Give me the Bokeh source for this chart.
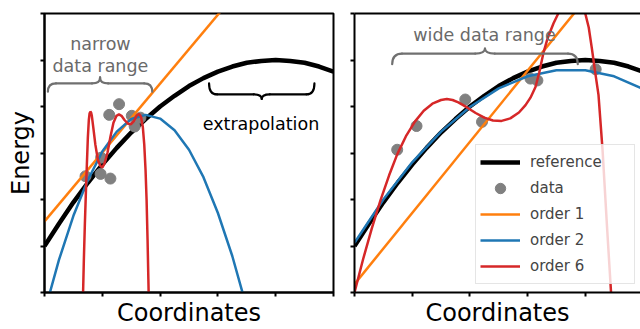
from bokeh.plotting import figure
from bokeh.models import Range1d, FixedTicker, LinearAxis, Label, Legend, LegendItem
from bokeh.layouts import row
from bokeh.embed import file_html
from bokeh.resources import INLINE

FONT = "DejaVu Sans"

# ---------------- data ----------------
x_ticks = [0, 1, 2, 3, 4, 5]
y_ticks = [0, 1, 2, 3, 4, 5, 6]

# reference curve (black), same in both panels
ref_x = [0, 0.25, 0.5, 0.75, 1, 1.25, 1.5, 1.75, 2, 2.25, 2.5, 2.75, 3, 3.25, 3.5, 3.75, 4, 4.25, 4.5, 4.75, 5]
ref_y = [1.00, 1.48, 1.94, 2.36, 2.75, 3.11, 3.44, 3.73, 4.00, 4.23, 4.44, 4.61, 4.75, 4.86, 4.94, 4.98, 5.00, 4.98, 4.94, 4.86, 4.75]

# data points
narrow_x = [0.71, 0.97, 1.14, 0.98, 1.12, 1.29, 1.51, 1.56, 1.66]
narrow_y = [2.50, 2.55, 2.45, 2.90, 3.82, 4.05, 3.80, 3.57, 3.76]
wide_x = [0.74, 1.075, 1.92, 2.21, 3.05, 3.17, 4.18]
wide_y = [3.07, 3.58, 4.15, 3.67, 4.60, 4.56, 4.80]

# narrow-range fits
n_o1_x = [0.0, 3.2]
n_o1_y = [1.53, 6.27]
n_o2_x = [0, 0.25, 0.5, 0.75, 1.0, 1.25, 1.5, 1.75, 2.0, 2.25, 2.5, 2.75, 3.0, 3.25, 3.5]
n_o2_y = [-0.42, 0.70, 1.65, 2.42, 3.03, 3.46, 3.73, 3.82, 3.74, 3.49, 3.07, 2.48, 1.71, 0.78, -0.33]
n_o6_x = [0.665, 0.681, 0.698, 0.715, 0.733, 0.750, 0.767, 0.780, 0.793, 0.806, 0.819, 0.845, 0.880,
          0.924, 0.967, 1.002, 1.037, 1.089, 1.141, 1.193, 1.245, 1.288, 1.332, 1.384, 1.444, 1.497,
          1.549, 1.592, 1.635, 1.670, 1.701, 1.726, 1.748, 1.766, 1.783, 1.797, 1.804]
n_o6_y = [-0.14, 0.71, 1.46, 2.11, 2.75, 3.33, 3.71, 3.85, 3.89, 3.87, 3.80, 3.54, 3.18,
          2.85, 2.72, 2.69, 2.77, 3.00, 3.35, 3.65, 3.80, 3.83, 3.80, 3.71, 3.63, 3.62,
          3.69, 3.80, 3.84, 3.78, 3.56, 3.18, 2.64, 2.00, 1.14, 0.29, -0.14]

# wide-range fits
w_o1_x = [0.0, 4.0]
w_o1_y = [0.18, 6.30]
w_o2_x = [0, 0.5, 1.0, 1.5, 2.0, 2.5, 3.0, 3.5, 4.0, 4.5, 5.0]
w_o2_y = [1.07, 2.00, 2.80, 3.46, 3.99, 4.39, 4.65, 4.78, 4.78, 4.65, 4.38]
w_o6_x = [0.0, 0.15, 0.3, 0.45, 0.6, 0.74, 0.9, 1.05, 1.2, 1.35, 1.5, 1.6, 1.7, 1.8, 1.95, 2.1,
          2.25, 2.4, 2.55, 2.7, 2.85, 2.964, 3.05, 3.137, 3.2, 3.276, 3.35, 3.45, 3.536, 3.62,
          3.72, 3.82, 3.9, 4.0, 4.06, 4.114, 4.17, 4.229, 4.3, 4.375, 4.444, 4.5]
w_o6_y = [0.00, 0.72, 1.38, 1.98, 2.52, 2.97, 3.38, 3.68, 3.91, 4.06, 4.14, 4.16, 4.14, 4.09, 3.98, 3.86,
          3.76, 3.70, 3.69, 3.745, 3.87, 4.03, 4.19, 4.42, 4.72, 5.16, 5.48, 5.79, 6.01, 6.20,
          6.33, 6.34, 6.24, 6.00, 5.70, 5.25, 4.75, 4.25, 3.05, 1.45, 0.05, -1.10]

legend_labels = ["reference", "data", "order 1", "order 2", "order 6"]

C_REF = "black"
C_DOT = "#808080"
C_O1 = "#ff7f0e"
C_O2 = "#1f77b4"
C_O6 = "#d62728"
C_NOTE = "#6a6a6a"
AX_FS = "24px"
NOTE_FS = "17.5px"


def style(p):
    p.grid.visible = False
    for ax, ticks in ((p.xaxis[0], x_ticks), (p.yaxis[0], y_ticks)):
        ax.ticker = FixedTicker(ticks=ticks)
        ax.major_tick_in = 0
        ax.major_tick_out = 4
        ax.major_tick_line_width = 2
        ax.minor_tick_line_color = None
        ax.axis_line_width = 2
        ax.major_label_text_font_size = "0px"
        ax.major_label_text_color = None
        ax.major_label_standoff = 0
        ax.axis_label_text_font = FONT
        ax.axis_label_text_font_size = AX_FS
        ax.axis_label_text_font_style = "normal"
        ax.axis_label_text_color = "black"
    p.xaxis[0].axis_label = "Coordinates"
    p.xaxis[0].axis_label_standoff = 2


def brace(p, x0, x1, y_end, y_flat, y_tip, c, color):
    xm = (x0 + x1) / 2.0
    kw = dict(line_color=color, line_width=2.2, line_cap="round")
    p.quadratic(x0=[x0, xm - c, xm, x1 - c], y0=[y_end, y_flat, y_tip, y_flat],
                x1=[x0 + c, xm, xm + c, x1], y1=[y_flat, y_tip, y_flat, y_end],
                cx=[x0, xm, xm, x1], cy=[y_flat, y_flat, y_flat, y_flat], **kw)
    p.segment(x0=[x0 + c, xm + c], y0=[y_flat, y_flat], x1=[xm - c, x1 - c], y1=[y_flat, y_flat], **kw)


# ---------------- left panel ----------------
p1 = figure(width=338, height=329, x_range=Range1d(0, 5), y_range=Range1d(0, 6),
            output_backend="svg", toolbar_location=None,
            min_border_left=44, min_border_right=5, min_border_top=13, min_border_bottom=36)
style(p1)
p1.outline_line_color = "black"
p1.outline_line_width = 2
p1.outline_line_alpha = 1
p1.yaxis[0].axis_label = "Energy"
p1.yaxis[0].axis_label_standoff = 6

p1.line(ref_x, ref_y, line_color=C_REF, line_width=4.5)
p1.scatter(narrow_x, narrow_y, size=11, color=C_DOT)
p1.line(n_o1_x, n_o1_y, line_color=C_O1, line_width=2.5)
p1.line(n_o2_x, n_o2_y, line_color=C_O2, line_width=2.5)
p1.line(n_o6_x, n_o6_y, line_color=C_O6, line_width=2.5)

brace(p1, 0.059, 1.864, 4.317, 4.497, 4.625, 0.14, "#707070")
brace(p1, 2.847, 4.670, 4.497, 4.261, 4.161, 0.14, "black")

for txt, x, y, col in (("narrow", 0.967, 5.353, C_NOTE), ("data range", 0.967, 4.867, C_NOTE),
                       ("extrapolation", 3.745, 3.625, "black")):
    p1.add_layout(Label(x=x, y=y, text=txt, text_align="center", text_baseline="alphabetic",
                        text_font=FONT, text_font_size=NOTE_FS, text_color=col))

# ---------------- right panel ----------------
p2 = figure(width=302, height=329, x_range=Range1d(0, 4.957), y_range=Range1d(0, 6),
            output_backend="svg", toolbar_location=None,
            min_border_left=16, min_border_right=0, min_border_top=13, min_border_bottom=36)
style(p2)
p2.outline_line_color = None
top = LinearAxis(ticker=FixedTicker(ticks=[]), axis_line_width=2, major_tick_in=0, major_tick_out=0,
                 minor_tick_line_color=None, major_label_text_font_size="0px",
                 major_label_text_color=None, major_label_standoff=0)
p2.add_layout(top, "above")

r_ref = p2.line(ref_x, ref_y, line_color=C_REF, line_width=4.5)
r_dat = p2.scatter(wide_x, wide_y, size=11, color=C_DOT)
r_o1 = p2.line(w_o1_x, w_o1_y, line_color=C_O1, line_width=2.5)
r_o2 = p2.line(w_o2_x, w_o2_y, line_color=C_O2, line_width=2.5)
r_o6 = p2.line(w_o6_x, w_o6_y, line_color=C_O6, line_width=2.5)

brace(p2, 0.653, 3.870, 4.91, 5.139, 5.246, 0.17, "#707070")
p2.add_layout(Label(x=2.253, y=5.531, text="wide data range", text_align="center",
                    text_baseline="alphabetic", text_font=FONT, text_font_size=NOTE_FS,
                    text_color=C_NOTE))

legend = Legend(items=[LegendItem(label=l, renderers=[r]) for l, r in
                       zip(legend_labels, [r_ref, r_dat, r_o1, r_o2, r_o6])],
                location=(121, 8), glyph_width=40, glyph_height=26, label_height=26,
                label_width=100, label_standoff=10, padding=4, spacing=0, margin=0,
                label_text_font=FONT, label_text_font_size="15px",
                background_fill_color="white", background_fill_alpha=0.8,
                border_line_color="#cccccc", border_line_width=1)
p2.add_layout(legend, "center")

layout = row(p1, p2)
open("out.html", "w").write(file_html(layout, INLINE))
